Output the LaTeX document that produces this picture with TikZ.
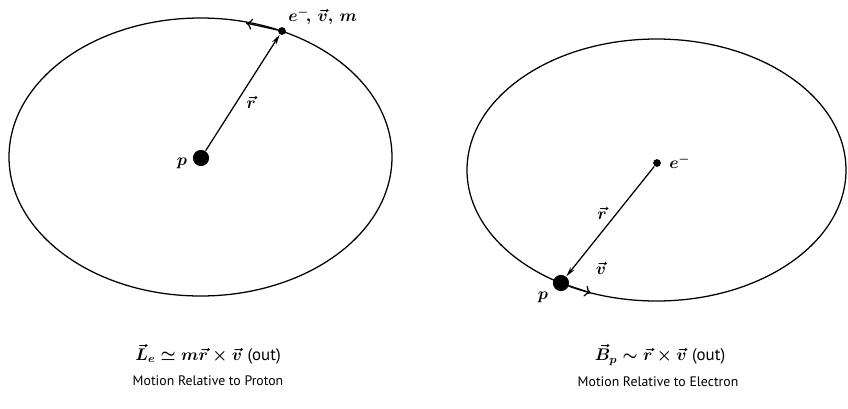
\documentclass[tikz,border=0pt]{standalone}
\usepackage{fontspec}
\setsansfont{PT Sans}
\usetikzlibrary{arrows.meta}
\begin{document}
\begin{tikzpicture}[x=0.025cm, y=-0.025cm, line width=0.9pt,
    proton/.style={circle, fill=black, inner sep=0pt, minimum size=11.5pt},
    electron/.style={circle, fill=black, inner sep=0pt, minimum size=5.5pt},
    lbl/.style={font=\large\boldmath},
    caption/.style={font=\sffamily\fontsize{9.8}{11}\selectfont}]
    \useasboundingbox (0,0) rectangle (848,408);
    % orbit of the electron about the proton
    \draw (200.5,157) ellipse [x radius=191.5, y radius=139];
    \node[proton] (p1) at (201,158) {};
    \node[electron] (e1) at (282,31) {};
    \coordinate (o1) at (246,23);
    \draw[-{Stealth[length=7pt,width=3.5pt]}] (p1) -- (e1);
    \draw[-{To[length=4.5pt,width=8pt]}] (e1) -- (o1);
    \node[lbl, anchor=west] (t1) at (283,16) {$e^{-}\!,\,\vec{v},\,m$};
    \node[lbl] (r1) at (251,102) {$\vec{r}$};
    \node[lbl] (q1) at (182,163) {$p$};
    % orbit of the proton about the electron
    \draw (656.5,170) ellipse [x radius=189.5, y radius=131];
    \node[proton] (p2) at (561,283) {};
    \node[electron] (e2) at (657,163) {};
    \coordinate (o2) at (591,293);
    \draw[-{Stealth[length=7pt,width=3.5pt]}] (e2) -- (p2);
    \draw[-{To[length=4.5pt,width=8pt]}] (p2) -- (o2);
    \node[lbl, anchor=west] (t2) at (664,162) {$e^{-}$};
    \node[lbl] (r2) at (602,213) {$\vec{r}$};
    \node[lbl] (v2) at (601,268) {$\vec{v}$};
    \node[lbl] (q2) at (543,297) {$p$};
    % captions
    \node[lbl] (c1) at (208,354) {$\vec{L}_e \simeq m\vec{r}\times\vec{v}$ \textsf{\mdseries(out)}};
    \node[caption] (d1) at (208,381) {Motion Relative to Proton};
    \node[lbl] (c2) at (660,355) {$\vec{B}_p \sim \vec{r}\times\vec{v}$ \textsf{\mdseries(out)}};
    \node[caption] (d2) at (658,382) {Motion Relative to Electron};
\end{tikzpicture}
\end{document}
